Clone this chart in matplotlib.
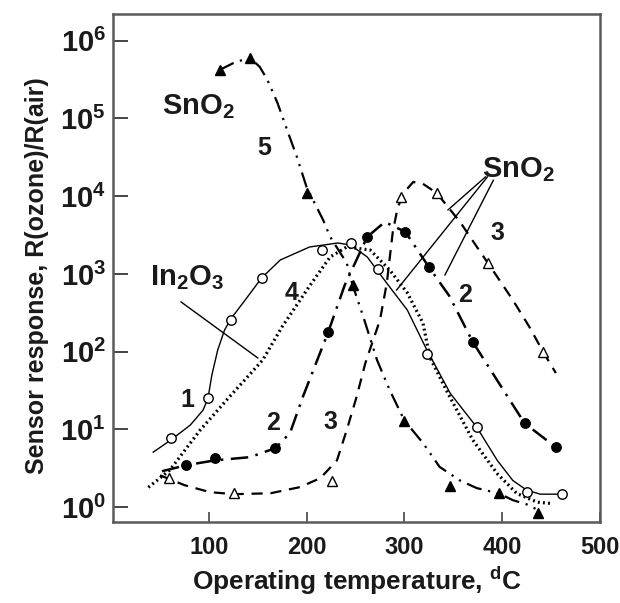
import matplotlib
matplotlib.use('Agg')
import matplotlib.pyplot as plt
from matplotlib import font_manager
from matplotlib.ticker import FixedLocator, FixedFormatter, NullLocator

# ---------------- data ----------------
# Curve 1: In2O3, solid line, open circles
c1_mx = [61, 99, 123, 154, 216, 245, 273, 323, 374, 425, 461]
c1_my = [7.7, 25, 256, 890, 2040, 2500, 1150, 93, 10.7, 1.56, 1.47]
c1_lx = [43, 61, 81, 94, 99, 103, 109, 116, 123, 137, 154, 173, 203, 232, 245,
         262, 282, 303, 323, 347, 374, 395, 411, 425, 439, 461]
c1_ly = [5.1, 7.3, 11.4, 17.7, 25, 50, 105, 190, 270, 460, 890, 1510, 2220, 2500,
         2350, 1650, 760, 343, 105, 29, 10.7, 4.0, 2.2, 1.66, 1.47, 1.47]

# Curve 4: In2O3, dotted line, no markers
c4_lx = [38, 60, 91, 118, 155, 175, 203, 224, 241, 265, 285, 303, 319, 326,
         344, 370, 395, 415, 436, 449]
c4_ly = [1.8, 3.0, 9.8, 23.8, 78, 210, 700, 1650, 2220, 2030, 1120, 570, 233, 85,
         30, 7.3, 2.7, 1.5, 1.16, 1.12]

# Curve 2: SnO2, dash-dot line, filled circles
c2_mx = [77, 106, 168, 222, 262, 301, 325, 370, 423, 455]
c2_my = [3.5, 4.3, 5.7, 178, 3000, 3470, 1230, 133, 12, 5.9]
c2_lx = [52, 77, 106, 142, 168, 183, 196, 222, 239, 262, 280, 301, 325, 346,
         370, 400, 423, 455]
c2_ly = [2.9, 3.47, 4.0, 4.4, 5.75, 9, 26, 178, 720, 3000, 4650, 3470, 1230, 520,
         133, 34, 12, 5.9]

# Curve 3: SnO2, dashed line, open triangles
c3_mx = [59, 126, 226, 297, 333, 386, 442]
c3_my = [2.4, 1.5, 2.2, 9800, 11000, 1380, 99]
c3_lx = [50, 75, 101, 126, 163, 193, 214, 231, 241, 251, 260, 267, 275, 282,
         288, 293, 300, 309, 319, 333, 357, 375, 393, 411, 428, 442, 455]
c3_ly = [2.57, 1.92, 1.56, 1.47, 1.51, 1.81, 2.36, 4.0, 9.8, 26, 71, 129, 255,
         760, 3370, 7060, 11300, 15200, 14400, 11000, 4650, 2150, 1000, 460,
         207, 99, 53]

# Curve 5: SnO2, dash-dot-dot line, filled triangles
c5_mx = [111, 142, 200, 247, 300, 347, 397, 437]
c5_my = [4.2e5, 6.0e5, 1.1e4, 720, 13, 1.9, 1.5, 0.83]
c5_lx = [111, 127, 142, 152, 160, 170, 180, 190, 200, 217, 224, 241, 247, 258,
         272, 285, 300, 319, 336, 357, 374, 397, 411, 428, 440]
c5_ly = [4.2e5, 5.3e5, 6.0e5, 4.6e5, 3.1e5, 1.6e5, 7.1e4, 3.2e4, 1.3e4, 4.9e3,
         3000, 1380, 720, 280, 78, 32, 13, 6.7, 3.3, 2.2, 1.76, 1.5, 1.23, 1.06,
         0.86]

# labels
x_ticks = [100, 200, 300, 400, 500]
x_ticklabels = ['100', '200', '300', '400', '500']
y_ticks = [1, 10, 100, 1e3, 1e4, 1e5, 1e6]
y_ticklabels = [r'$\mathdefault{10^{%d}}$' % i for i in range(7)]
x_label = r'Operating temperature, $\mathdefault{^{d}}$C'
y_label = 'Sensor response, R(ozone)/R(air)'

# annotations: text, x, y, size kind
notes = [
    (r'$\mathdefault{SnO_2}$', 89, 1.41e5, 'chem'),
    ('5', 157, 4.2e4, 'num'),
    (r'$\mathdefault{SnO_2}$', 417, 2.2e4, 'chem'),
    ('3', 395, 3380, 'num'),
    ('2', 362, 537, 'num'),
    (r'$\mathdefault{In_2O_3}$', 77, 890, 'chem'),
    ('4', 185, 570, 'num'),
    ('1', 77.5, 23.8, 'num'),
    ('2', 165.5, 12, 'num'),
    ('3', 224, 12.4, 'num'),
]
# leader lines: (x0, y0, x1, y1)
leaders = [
    (71.5, 436, 150, 83),
    (383, 17700, 344.6, 6650),
    (385, 17700, 292, 620),
    (391, 16000, 341.5, 970),
]

# ---------------- fonts ----------------
names = {f.name for f in font_manager.fontManager.ttflist}
if 'Liberation Sans Narrow' in names:
    COND, CS, XT = 'Liberation Sans Narrow', 1.12, 23
else:
    COND, CS, XT = 'Liberation Sans', 0.9, 17
plt.rcParams['font.family'] = ['Liberation Sans', 'DejaVu Sans']
plt.rcParams['mathtext.default'] = 'regular'
TXT = '#1a1a1a'

fig = plt.figure(figsize=(6.2, 6.03), dpi=100)
ax = fig.add_axes([0.182, 0.134, 0.786, 0.843])
ax.set_yscale('log')
ax.set_xlim(1.7, 500.3)
ax.set_ylim(0.641, 2.21e6)

k = 'black'
ax.plot(c1_lx, c1_ly, color=k, lw=1.0, ls='-', zorder=2)
ax.plot(c4_lx, c4_ly, color=k, lw=2.3, ls=(0, (0.6, 1.0)), zorder=2)
ax.plot(c2_lx, c2_ly, color=k, lw=1.8, ls=(0, (7, 3, 1, 3)), zorder=2)
ax.plot(c3_lx, c3_ly, color=k, lw=1.6, ls=(0, (5, 3.5)), zorder=2)
ax.plot(c5_lx, c5_ly, color=k, lw=1.6, ls=(0, (7, 3, 1, 3, 1, 3)), zorder=2)

ax.plot(c1_mx, c1_my, ls='none', marker='o', ms=6.8, mfc='white', mec=k, mew=1.0, zorder=3)
ax.plot(c2_mx, c2_my, ls='none', marker='o', ms=6.8, mfc=k, mec=k, zorder=3)
ax.plot(c3_mx, c3_my, ls='none', marker='^', ms=7, mfc='white', mec=k, mew=1.0, zorder=3)
ax.plot(c5_mx, c5_my, ls='none', marker='^', ms=7.5, mfc=k, mec=k, zorder=3)

for x0, y0, x1, y1 in leaders:
    ax.plot([x0, x1], [y0, y1], color=k, lw=1.0, zorder=2)

for t, x, y, kind in notes:
    size = 21 if kind == 'chem' else 18
    ax.text(x, y, t, ha='center', va='center', fontsize=size,
            fontweight='bold', color=TXT, family='Liberation Sans', zorder=4)

ax.yaxis.set_major_locator(FixedLocator(y_ticks))
ax.yaxis.set_major_formatter(FixedFormatter(y_ticklabels))
ax.yaxis.set_minor_locator(NullLocator())
ax.xaxis.set_major_locator(FixedLocator(x_ticks))
ax.xaxis.set_major_formatter(FixedFormatter(x_ticklabels))
ax.xaxis.set_minor_locator(NullLocator())

ax.tick_params(axis='y', direction='in', length=11, width=1.4, color='#444444', pad=5)
ax.tick_params(axis='x', direction='in', length=7, width=1.2, color='#444444', pad=10)
for lab in ax.get_yticklabels():
    lab.set_fontsize(21)
    lab.set_fontweight('bold')
    lab.set_color(TXT)
    lab.set_family('Liberation Sans')
for lab in ax.get_xticklabels():
    lab.set_fontsize(XT)
    lab.set_fontweight('bold')
    lab.set_color(TXT)
    lab.set_family(COND)

for s in ax.spines.values():
    s.set_color('#5a5a5a')
    s.set_linewidth(1.8)

ax.set_xlabel(x_label, fontsize=21 * CS, fontweight='bold', color=TXT, family=COND,
              labelpad=4)
ax.set_ylabel(y_label, fontsize=20 * CS, fontweight='bold', color=TXT, family=COND)
ax.yaxis.set_label_coords(-0.13, 0.485)

fig.savefig('out.png', dpi=100)
